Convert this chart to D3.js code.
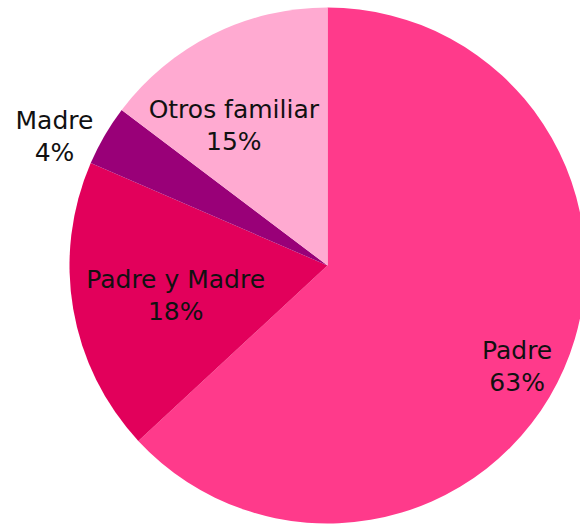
<!DOCTYPE html>
<html>
<head>
<meta charset="utf-8">
<script src="https://cdn.jsdelivr.net/npm/d3@7"></script>
<style>
  html, body { margin: 0; padding: 0; background: #fff; }
  svg { display: block; }
</style>
</head>
<body>
<div id="chart"></div>
<script>
// slices, clockwise from 12 o'clock
const categories = ["Padre", "Padre y Madre", "Madre", "Otros familiar"];
const shares = [63.1, 18.4, 3.8, 14.7];
const labels = ["63%", "18%", "4%", "15%"];

const colors = ["#ff3a8b", "#e2005b", "#990078", "#ffaad1"];
// label placement: radius as fraction of pie radius, angle nudge in degrees
const labelRadius = [0.833, 0.60, 1.17, 0.65];
const labelNudge = [4.5, -1.5, -5, -7.5];

const width = 580, height = 526;
const cx = 327.5, cy = 265.5, radius = 258;

const svg = d3.select("#chart").append("svg")
  .attr("width", width)
  .attr("height", height);

const data = categories.map((c, i) => ({ name: c, value: shares[i], label: labels[i], i }));

const pie = d3.pie().sort(null).value(d => d.value);
const arcs = pie(data);

const arc = d3.arc().innerRadius(0).outerRadius(radius);

const g = svg.append("g").attr("transform", `translate(${cx},${cy})`);

g.selectAll("path")
  .data(arcs)
  .enter()
  .append("path")
  .attr("d", arc)
  .attr("fill", d => colors[d.data.i]);

const lbl = g.selectAll("text")
  .data(arcs)
  .enter()
  .append("text")
  .attr("transform", d => {
    const a = (d.startAngle + d.endAngle) / 2 + labelNudge[d.data.i] * Math.PI / 180;
    const r = radius * labelRadius[d.data.i];
    return `translate(${r * Math.sin(a)},${-r * Math.cos(a)})`;
  })
  .attr("text-anchor", "middle")
  .attr("font-family", "'DejaVu Sans', sans-serif")
  .attr("font-size", "25px")
  .attr("fill", "#111");

lbl.append("tspan").attr("x", 0).attr("y", -8).text(d => d.data.name);
lbl.append("tspan").attr("x", 0).attr("y", 24).text(d => d.data.label);
</script>
</body>
</html>
